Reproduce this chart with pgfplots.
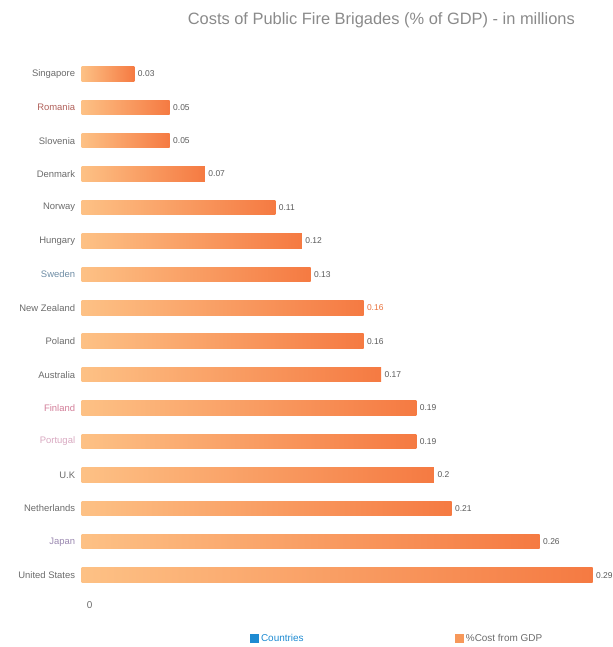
\documentclass[border=0pt]{standalone}
\usepackage{fontspec}
\setmainfont{Liberation Sans}
\usepackage{pgfplots}
\pgfplotsset{compat=1.18}
\usetikzlibrary{calc}
\definecolor{barL}{HTML}{FDC185}
\definecolor{barR}{HTML}{F57A42}
\definecolor{lbl}{HTML}{6B6B6B}
\definecolor{val}{HTML}{5A5A5A}
\definecolor{ttl}{HTML}{8A8A8A}
\definecolor{cblue}{HTML}{1E8BD2}
\definecolor{corange}{HTML}{F7985A}
\definecolor{nzred}{HTML}{E8703A}
\pgfplotsset{onebar/.style={draw=none, left color=barL, right color=barR, bar shift=0pt, forget plot}}
\begin{document}
\begin{tikzpicture}
\begin{axis}[
  scale only axis,
  width=531pt, height=544pt,
  xmin=0, xmax=0.3,
  ymin=-0.6, ymax=15.6,
  y dir=reverse,
  xbar, bar width=14.5pt,
  axis line style={draw=none},
  major tick length=0pt,
  xtick={0}, xticklabels={0},
  ytick={0,...,15},
  yticklabels={Singapore,{\textcolor[HTML]{B0605A}{Romania}},Slovenia,Denmark,Norway,Hungary,{\textcolor[HTML]{6F8DA5}{Sweden}},New Zealand,Poland,Australia,{\textcolor[HTML]{D27D98}{Finland}},{\textcolor[HTML]{D8A8C0}{Portugal}},U.K,Netherlands,{\textcolor[HTML]{9A88B0}{Japan}},United States},
  yticklabel style={font=\fontsize{9.5}{11}\selectfont, text=lbl, xshift=-3pt},
  xticklabel style={font=\fontsize{10}{12}\selectfont, text=lbl, xshift=8pt, yshift=-3pt},
  nodes near coords,
  point meta=explicit symbolic,
  every node near coord/.append style={font=\fontsize{8.5}{10}\selectfont, text=val, anchor=west, xshift=0pt, yshift=0pt},
  clip=false,
  legend style={draw=none, fill=none, at={(rel axis cs:0.597,-0.064)}, anchor=north,
    font=\fontsize{10}{12}\selectfont, text=lbl, legend columns=2,
    /tikz/every even column/.append style={column sep=150pt}},
  legend cell align=left,
  legend image code/.code={\fill[#1] (0pt,-4.5pt) rectangle (9pt,4.5pt);},
  title={Costs of Public Fire Brigades (\% of GDP) - in millions},
  title style={font=\fontsize{16.5}{19}\selectfont, text=ttl, at={(rel axis cs:0.567,1)}, anchor=south, yshift=16pt},
]
\coordinate (bl) at (rel axis cs:0,0);
\coordinate (tr) at (rel axis cs:1,1);
\addlegendimage{draw=none, fill=cblue}
\addlegendentry{\textcolor{cblue}{Countries}}
\addlegendimage{draw=none, fill=corange}
\addlegendentry{\%Cost from GDP}
\addplot[onebar] coordinates {(0.03,0) [0.03]};
\addplot[onebar] coordinates {(0.05,1) [0.05]};
\addplot[onebar] coordinates {(0.05,2) [0.05]};
\addplot[onebar] coordinates {(0.07,3) [0.07]};
\addplot[onebar] coordinates {(0.11,4) [0.11]};
\addplot[onebar] coordinates {(0.125,5) [0.12]};
\addplot[onebar] coordinates {(0.13,6) [0.13]};
\addplot[onebar] coordinates {(0.16,7) [{\textcolor{nzred}{0.16}}]};
\addplot[onebar] coordinates {(0.16,8) [0.16]};
\addplot[onebar] coordinates {(0.17,9) [0.17]};
\addplot[onebar] coordinates {(0.19,10) [0.19]};
\addplot[onebar] coordinates {(0.19,11) [0.19]};
\addplot[onebar] coordinates {(0.2,12) [0.2]};
\addplot[onebar] coordinates {(0.21,13) [0.21]};
\addplot[onebar] coordinates {(0.26,14) [0.26]};
\addplot[onebar] coordinates {(0.29,15) [0.29]};
\end{axis}
\pgfresetboundingbox
\path[use as bounding box] ($(bl)+(-82pt,-52pt)$) rectangle ($(tr)+(2pt,54pt)$);
\end{tikzpicture}
\end{document}
